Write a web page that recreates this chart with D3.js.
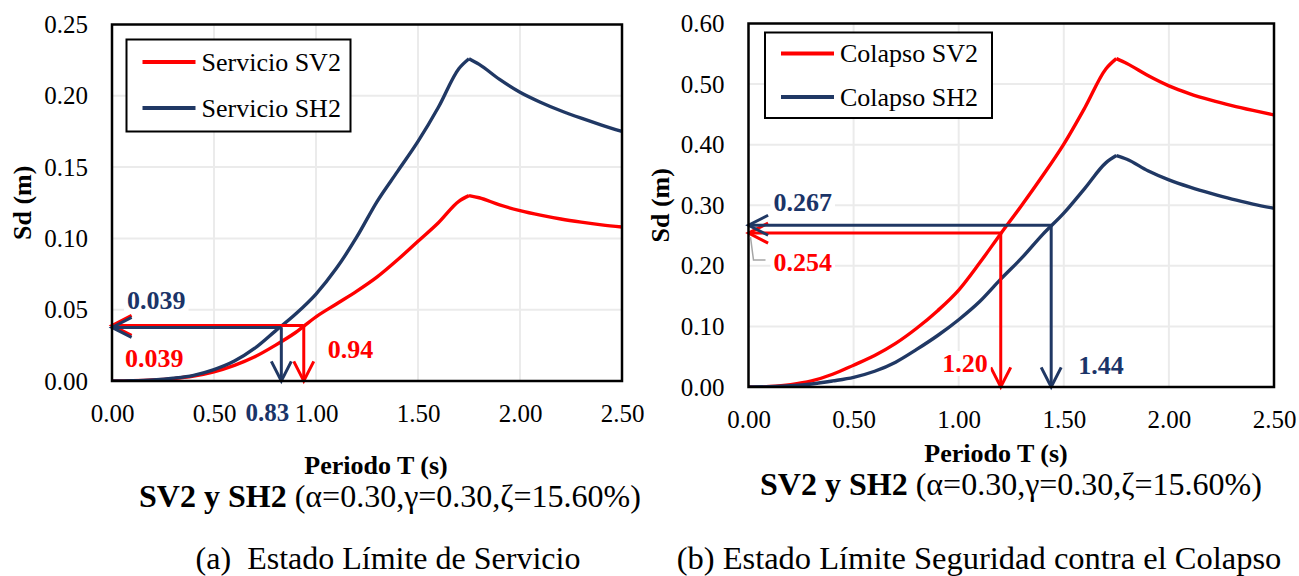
<!DOCTYPE html>
<html>
<head>
<meta charset="utf-8">
<script src="https://cdn.jsdelivr.net/npm/d3@7"></script>
<style>
  body { margin: 0; background: #fff; }
  svg { display: block; }
  text { font-family: "Liberation Serif", "Times New Roman", serif; }
</style>
</head>
<body>
<svg id="fig" width="1299" height="576"></svg>
<script>
// Periods (s) at which the displacement spectra are sampled
const periodT = [0, 0.1, 0.2, 0.3, 0.4, 0.5, 0.6, 0.7, 0.8, 0.9, 1.0, 1.1, 1.2, 1.3, 1.4, 1.5,
                 1.6, 1.7, 1.75, 1.8, 1.9, 2.0, 2.1, 2.2, 2.3, 2.4, 2.5];
// index of the spectral peak (T = 1.75 s); the curve is drawn as a rising and a falling branch
const peakIndex = 18;

// Spectral displacement Sd (m) – serviceability limit state
const servicioSV2 = [0, 0.0002, 0.0007, 0.0017, 0.0035, 0.0065, 0.011, 0.017, 0.025, 0.034, 0.045,
                     0.054, 0.063, 0.073, 0.085, 0.098, 0.111, 0.126, 0.130, 0.1285, 0.1235, 0.1195,
                     0.1163, 0.1136, 0.1114, 0.1095, 0.108];
const servicioSH2 = [0, 0.0002, 0.0008, 0.002, 0.004, 0.008, 0.014, 0.023, 0.035, 0.047, 0.061,
                     0.079, 0.101, 0.126, 0.147, 0.168, 0.192, 0.219, 0.226, 0.222, 0.2115, 0.2025,
                     0.1955, 0.1895, 0.1843, 0.1795, 0.175];

// Spectral displacement Sd (m) – collapse prevention limit state
const colapsoSV2 = [0, 0.001, 0.004, 0.010, 0.021, 0.036, 0.052, 0.072, 0.097, 0.126, 0.160,
                    0.205, 0.253, 0.300, 0.349, 0.401, 0.461, 0.525, 0.542, 0.534, 0.514, 0.497,
                    0.484, 0.4735, 0.4645, 0.4565, 0.449];
const colapsoSH2 = [0, 0.0005, 0.002, 0.005, 0.010, 0.016, 0.026, 0.041, 0.062, 0.085, 0.111,
                    0.141, 0.178, 0.213, 0.252, 0.287, 0.328, 0.370, 0.382, 0.376, 0.357, 0.342,
                    0.330, 0.3195, 0.310, 0.302, 0.295];

// Performance points (period T, displacement Sd)
const servicioPoints = [
  { key: "SV2", T: 0.94, Sd: 0.039 },
  { key: "SH2", T: 0.83, Sd: 0.039 }
];
const colapsoPoints = [
  { key: "SV2", T: 1.20, Sd: 0.254 },
  { key: "SH2", T: 1.44, Sd: 0.267 }
];

// Axis ticks
const xTicks = [0, 0.5, 1.0, 1.5, 2.0, 2.5];
const yTicksServicio = [0, 0.05, 0.10, 0.15, 0.20, 0.25];
const yTicksColapso = [0, 0.10, 0.20, 0.30, 0.40, 0.50, 0.60];

// Labels
const legendServicio = ["Servicio SV2", "Servicio SH2"];
const legendColapso = ["Colapso SV2", "Colapso SH2"];
const xTitle = "Periodo T (s)";
const yTitle = "Sd (m)";
const subtitleBold = "SV2 y SH2 ";
const subtitleRest = "(α=0.30,γ=0.30,ζ=15.60%)";
const captionA = "(a)  Estado Límite de Servicio";
const captionB = "(b) Estado Límite Seguridad contra el Colapso";

const RED = "#ff0000";
const NAVY = "#203864";
const NAVY_TEXT = "#1b3468";
const svg = d3.select("#fig");

function arrow(g, x1, y1, x2, y2, color) {
  // straight shaft plus an open chevron head at (x2, y2)
  g.append("line").attr("x1", x1).attr("y1", y1).attr("x2", x2).attr("y2", y2)
    .attr("stroke", color).attr("stroke-width", 3);
  const ang = Math.atan2(y2 - y1, x2 - x1);
  const len = 22, spread = 27 * Math.PI / 180;
  const p = [
    [x2 - len * Math.cos(ang - spread), y2 - len * Math.sin(ang - spread)],
    [x2, y2],
    [x2 - len * Math.cos(ang + spread), y2 - len * Math.sin(ang + spread)]
  ];
  g.append("path").attr("d", d3.line()(p)).attr("fill", "none")
    .attr("stroke", color).attr("stroke-width", 3).attr("stroke-linejoin", "miter");
}

function boxedLabel(g, x, y, txt, color, anchor, size) {
  const t = g.append("text").attr("x", x).attr("y", y).text(txt)
    .attr("fill", color).attr("font-weight", "bold").attr("font-size", size || 26)
    .attr("text-anchor", anchor || "start");
  const b = t.node().getBBox();
  g.insert("rect", () => t.node())
    .attr("x", b.x - 3).attr("y", b.y + 2).attr("width", b.width + 6).attr("height", b.height - 4)
    .attr("fill", "#fff");
  return t;
}

function panel(cfg) {
  const g = svg.append("g");
  const x = d3.scaleLinear().domain([0, 2.5]).range([cfg.left, cfg.right]);
  const y = d3.scaleLinear().domain([0, cfg.yMax]).range([cfg.bottom, cfg.top]);

  // gridlines
  g.append("g").selectAll("line").data(xTicks.slice(1, -1)).join("line")
    .attr("x1", d => x(d)).attr("x2", d => x(d)).attr("y1", cfg.top).attr("y2", cfg.bottom)
    .attr("stroke", "#ebebeb").attr("stroke-width", 2);
  g.append("g").selectAll("line").data(cfg.yTicks.slice(1, -1)).join("line")
    .attr("y1", d => y(d)).attr("y2", d => y(d)).attr("x1", cfg.left).attr("x2", cfg.right)
    .attr("stroke", "#ebebeb").attr("stroke-width", 2);

  // axes (labels only; the frame carries the axis lines)
  const fmt = d3.format(".2f");
  const ax = g.append("g").attr("transform", `translate(0,${cfg.bottom})`)
    .call(d3.axisBottom(x).tickValues(xTicks).tickFormat(fmt).tickSize(0).tickPadding(23));
  const ay = g.append("g").attr("transform", `translate(${cfg.left},0)`)
    .call(d3.axisLeft(y).tickValues(cfg.yTicks).tickFormat(fmt).tickSize(0).tickPadding(24));
  [ax, ay].forEach(a => {
    a.attr("font-family", null);
    a.select(".domain").remove();
    a.selectAll("text").attr("font-size", 25).attr("fill", "#000");
  });

  // curves: rising branch up to the peak, falling branch after it
  const line = d3.line().x(d => x(d[0])).y(d => y(d[1])).curve(d3.curveMonotoneX);
  const branches = s => {
    const pts = s.map((v, i) => [periodT[i], v]);
    return [pts.slice(0, peakIndex + 1), pts.slice(peakIndex)];
  };
  const clip = "clip" + cfg.id;
  g.append("clipPath").attr("id", clip).append("rect")
    .attr("x", cfg.left).attr("y", cfg.top - 5).attr("width", cfg.right - cfg.left + 2)
    .attr("height", cfg.bottom - cfg.top + 5);
  const cg = g.append("g").attr("clip-path", `url(#${clip})`);
  [[cfg.sv, RED], [cfg.sh, NAVY]].forEach(([s, c]) => {
    cg.append("path").attr("d", branches(s).map(b => line(b)).join(""))
      .attr("fill", "none").attr("stroke", c).attr("stroke-width", 3.4)
      .attr("stroke-linejoin", "round");
  });

  // performance-point arrows
  const ag = g.append("g");
  cfg.points.forEach(p => {
    const c = p.key === "SV2" ? RED : NAVY;
    const yy = y(p.Sd) + (cfg.shift && p.key === "SH2" ? cfg.shift : 0);
    arrow(ag, x(p.T), yy, x(0), yy, c);
    arrow(ag, x(p.T), yy, x(p.T), y(0), c);
  });

  // frame
  g.append("rect").attr("x", cfg.left).attr("y", cfg.top)
    .attr("width", cfg.right - cfg.left).attr("height", cfg.bottom - cfg.top)
    .attr("fill", "none").attr("stroke", "#000").attr("stroke-width", 2.5);

  // legend
  const L = cfg.legend;
  const lg = g.append("g").attr("transform", `translate(${L.x},${L.y})`);
  lg.append("rect").attr("width", L.w).attr("height", L.h).attr("fill", "#fff")
    .attr("stroke", "#000").attr("stroke-width", 2);
  [RED, NAVY].forEach((c, i) => {
    const ly = L.row0 + i * L.gap;
    lg.append("line").attr("x1", 16).attr("x2", 69).attr("y1", ly).attr("y2", ly)
      .attr("stroke", c).attr("stroke-width", 4);
    lg.append("text").attr("x", 75).attr("y", ly + 8.5).text(cfg.legendText[i])
      .attr("font-size", 26).attr("fill", "#000");
  });

  // axis titles
  g.append("text").attr("transform", `translate(${cfg.yTitleX},${(cfg.top + cfg.bottom) / 2}) rotate(-90)`)
    .attr("text-anchor", "middle").attr("dy", "0.35em").attr("font-weight", "bold")
    .attr("font-size", 26).text(yTitle);
  g.append("text").attr("x", cfg.xTitleX).attr("y", cfg.xTitleY).attr("text-anchor", "middle")
    .attr("font-weight", "bold").attr("font-size", 26).text(xTitle);
  const st = g.append("text").attr("x", cfg.subX).attr("y", cfg.subY).attr("text-anchor", "middle")
    .attr("font-size", 32);
  st.append("tspan").attr("font-weight", "bold").text(subtitleBold);
  st.append("tspan").text(subtitleRest);
  g.append("text").attr("x", cfg.capX).attr("y", 569).attr("text-anchor", "middle")
    .attr("font-size", cfg.capSize).style("white-space", "pre").text(cfg.caption);

  cfg.labels(g, x, y);
}

panel({
  id: "a", left: 112, right: 622, top: 24.5, bottom: 381, yMax: 0.25,
  yTicks: yTicksServicio, sv: servicioSV2, sh: servicioSH2, points: servicioPoints, shift: 2,
  legend: { x: 126.5, y: 39.5, w: 224, h: 92, row0: 22.5, gap: 46 },
  legendText: legendServicio,
  yTitleX: 22, xTitleX: 376, xTitleY: 474, subX: 390, subY: 507, capX: 388, capSize: 32,
  caption: captionA,
  labels: (g, x, y) => {
    const sv = servicioPoints[0], sh = servicioPoints[1];
    boxedLabel(g, x(0) + 15, y(sh.Sd) - 16, d3.format(".3f")(sh.Sd), NAVY_TEXT);
    boxedLabel(g, x(0) + 13, y(sv.Sd) + 42, d3.format(".3f")(sv.Sd), RED);
    boxedLabel(g, x(sv.T) + 24, y(sv.Sd) + 33, d3.format(".2f")(sv.T), RED);
    boxedLabel(g, x(sh.T) - 14, y(0) + 40, d3.format(".2f")(sh.T), NAVY_TEXT, "middle", 25);
  }
});

panel({
  id: "b", left: 748.5, right: 1274, top: 23.5, bottom: 387, yMax: 0.6,
  yTicks: yTicksColapso, sv: colapsoSV2, sh: colapsoSH2, points: colapsoPoints,
  legend: { x: 765, y: 32.5, w: 227, h: 85.5, row0: 21, gap: 43.5 },
  legendText: legendColapso,
  yTitleX: 660, xTitleX: 996, xTitleY: 462, subX: 1011, subY: 495, capX: 979, capSize: 32.5,
  caption: captionB,
  labels: (g, x, y) => {
    const sv = colapsoPoints[0], sh = colapsoPoints[1];
    // small leader from the axis to the SV2 value label
    g.append("path").attr("d", d3.line()([[x(0) + 2, y(sv.Sd) + 4], [x(0) + 5, y(sv.Sd) + 27], [x(0) + 17, y(sv.Sd) + 27]]))
      .attr("fill", "none").attr("stroke", "#a6a6a6").attr("stroke-width", 1.5);
    boxedLabel(g, x(0) + 25, y(sh.Sd) - 14, d3.format(".3f")(sh.Sd), NAVY_TEXT);
    boxedLabel(g, x(0) + 25, y(sv.Sd) + 38, d3.format(".3f")(sv.Sd), RED);
    boxedLabel(g, x(sv.T) - 13, y(0) - 15, d3.format(".2f")(sv.T), RED, "end");
    boxedLabel(g, x(sh.T) + 27, y(0) - 13, d3.format(".2f")(sh.T), NAVY_TEXT);
  }
});
</script>
</body>
</html>
